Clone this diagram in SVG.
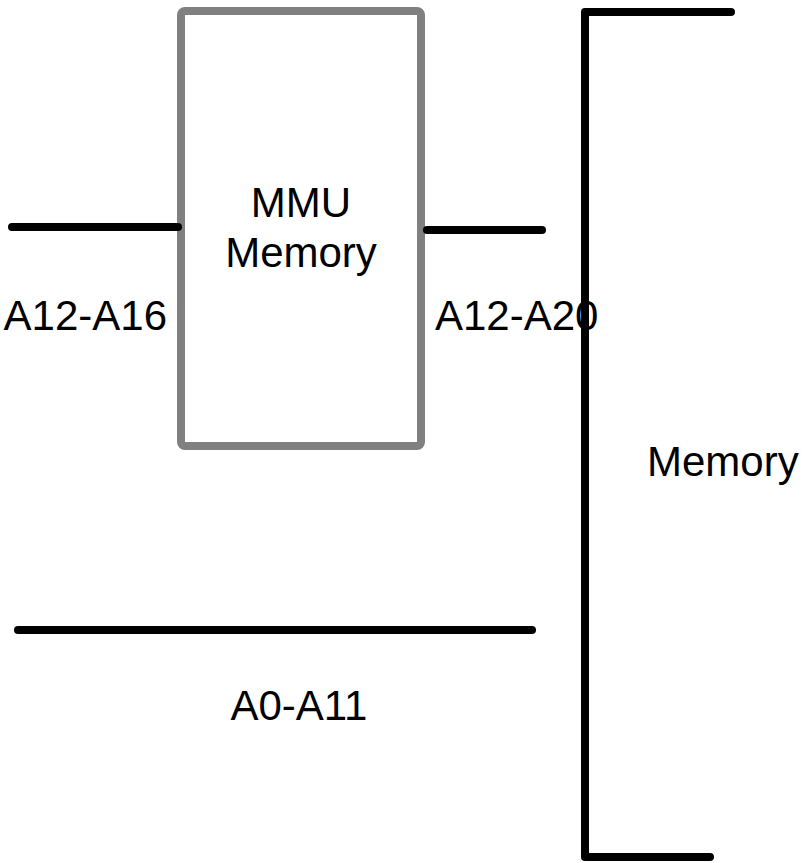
<svg xmlns="http://www.w3.org/2000/svg" width="804" height="863" viewBox="0 0 804 863">
<style>
.t{font-family:"Liberation Sans",Arial,sans-serif;font-size:42px;fill:#000}
.w{stroke:#000;stroke-width:8;stroke-linecap:round;stroke-linejoin:round;fill:none}
</style>
<rect width="804" height="863" fill="#fff"/>
<g id="mmu">
<rect x="181" y="11" width="240" height="435" rx="4" fill="#fff" stroke="#808080" stroke-width="8"/>
<text class="t" x="301" y="217" text-anchor="middle">MMU</text>
<text class="t" x="301" y="267" text-anchor="middle">Memory</text>
</g>
<g id="labels">
<text class="t" x="167" y="330" text-anchor="end">A12-A16</text>
<text class="t" x="435" y="330">A12-A20</text>
<text class="t" x="299" y="720" text-anchor="middle">A0-A11</text>
</g>
<g id="connectors">
<line class="w" x1="12" y1="227" x2="178" y2="227"/>
<line class="w" x1="427" y1="230" x2="542" y2="230"/>
<line class="w" x1="18" y1="630" x2="532" y2="630"/>
</g>
<g id="memory">
<path class="w" d="M731,12 L585,12 L585,857 L710,857"/>
<text class="t" x="647" y="476">Memory</text>
</g>
</svg>
